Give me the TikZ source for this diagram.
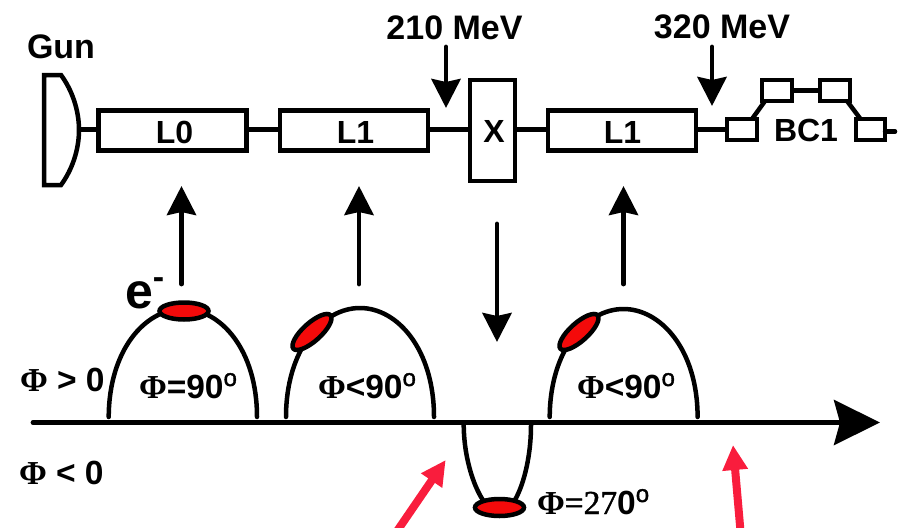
\documentclass[tikz,border=0pt]{standalone}
\usepackage{fontspec}
\setmainfont{Liberation Sans}
\newfontfamily\serifphi{Liberation Serif}
\newfontfamily\serifheavy[FakeBold=1.2]{Liberation Serif}
\newfontfamily\degfont[FakeBold=1.5]{Liberation Sans}
\usetikzlibrary{arrows.meta,shapes.geometric}
\definecolor{bunch}{HTML}{F40A0A}
\definecolor{pink}{HTML}{F91D3D}
\newcommand{\Ph}{{\serifphi\bfseries\symbol{"03A6}}}
\newcommand{\Deg}{\raisebox{12pt}{\fontsize{24}{24}\degfont\mdseries o}}
\tikzset{
  x=1pt,y=-1pt,
  line width=4.5pt,line join=round,
  box/.style={draw,rectangle,inner sep=0pt,outer sep=0pt,line width=4.5pt,font=\fontsize{32}{32}\selectfont\bfseries},
  lbl/.style={inner sep=0pt,outer sep=0pt,font=\fontsize{32}{32}\selectfont\bfseries},
  biglbl/.style={inner sep=0pt,outer sep=0pt,font=\fontsize{34}{34}\selectfont\bfseries},
  phaselbl/.style={inner sep=0pt,outer sep=0pt,anchor=base west,font=\fontsize{33.5}{34}\selectfont\bfseries},
  conn/.style={line width=4.5pt},
  blackarrow/.style={line width=4.8pt,line cap=round,-{Stealth[length=29pt,width=29pt,inset=3pt]}},
  axisarrow/.style={line width=4.8pt,line cap=round,-{Stealth[length=46pt,width=45pt,inset=6pt]}},
  pinkarrow/.style={pink,line width=8pt,-{Triangle[length=25pt,width=24pt]}},
  bunchnode/.style={draw,ellipse,fill=bunch,inner sep=0pt,outer sep=0pt,line width=4.5pt,minimum width=49pt,minimum height=17pt},
  wave/.style={line width=4.5pt,line cap=round}
}
\begin{document}
\begin{tikzpicture}
\clip (0,0) rectangle (904,527);
\useasboundingbox (0,0) rectangle (904,527);
% gun
\draw[line width=4.5pt] (44,75) -- (61,75) .. controls (72,90) and (79,110) .. (79,130) .. controls (79,150) and (72,170) .. (61,185) -- (44,185) -- cycle;
\coordinate (gunout) at (79,129.5);
\node[biglbl] (gun) at (61,47) {Gun};
% beamline
\node[box,minimum width=148pt,minimum height=40pt] (L0) at (172.3,130.5) {};
\node[box,minimum width=148pt,minimum height=40pt] (L1a) at (354,130.5) {};
\node[box,minimum width=45pt,minimum height=101pt] (X) at (492.5,130.5) {};
\node[box,minimum width=148pt,minimum height=40pt] (L1b) at (622,130.5) {};
\node[lbl] (L0t) at (174.5,132) {L0};
\node[lbl] (L1at) at (355.5,132) {L1};
\node[lbl] (Xt) at (494,131) {X};
\node[lbl] (L1bt) at (622.5,132) {L1};
\node[box,minimum width=30pt,minimum height=21pt] (d1) at (742,129.5) {};
\node[box,minimum width=30pt,minimum height=21pt] (d2) at (777,90.5) {};
\node[box,minimum width=30pt,minimum height=21pt] (d3) at (835,90.5) {};
\node[box,minimum width=29pt,minimum height=21pt] (d4) at (870.5,129.5) {};
\node[lbl] (bc) at (806,130) {BC1};
\coordinate (tail) at (895,131.5);
\draw[conn] (gunout) -- (gunout-|L0.west);
\draw[conn] ([yshift=1pt]L0.east) -- ([yshift=1pt]L1a.west);
\draw[conn] ([yshift=1pt]L1a.east) -- ([yshift=1pt]X.west);
\draw[conn] ([yshift=1pt]X.east) -- ([yshift=1pt]L1b.west);
\draw[conn] ([yshift=1pt]L1b.east) -- (d1.west);
\draw[conn] ([xshift=10pt]d1.north) -- ([xshift=-12pt]d2.south);
\draw[conn] (d2.east) -- (d3.west);
\draw[conn] ([xshift=12pt]d3.south) -- ([xshift=-10pt]d4.north);
\draw[conn,line cap=round] (d4.east|-tail) -- (tail);
% energies
\node[biglbl] (e210) at (454.5,28) {210 MeV};
\node[biglbl] (e320) at (722,27) {320 MeV};
\coordinate (a210s) at (446,47); \coordinate (a210e) at (446,108);
\coordinate (a320s) at (712,47); \coordinate (a320e) at (712,106);
\draw[blackarrow] (a210s) -- (a210e);
\draw[blackarrow] (a320s) -- (a320e);
% vertical arrows
\coordinate (u1s) at (181.5,284); \coordinate (u1e) at (181.5,186);
\coordinate (u2s) at (359,284); \coordinate (u2e) at (359,186);
\coordinate (u3s) at (623.5,284); \coordinate (u3e) at (623.5,186);
\coordinate (ds) at (497,224); \coordinate (de) at (497,342);
\draw[blackarrow] (u1s) -- (u1e);
\draw[blackarrow] (u2s) -- (u2e);
\draw[blackarrow] (u3s) -- (u3e);
\draw[blackarrow] (ds) -- (de);
% axis
\coordinate (axs) at (33,422.5); \coordinate (axe) at (880,422.5);
\draw[axisarrow] (axs) -- (axe);
% waves
\draw[wave] (108.7,417) .. controls (109,350) and (145,309) .. (183,309) .. controls (221,309) and (257,350) .. (257,417);
\draw[wave] (286,417) .. controls (286,350) and (322,308) .. (360,308) .. controls (398,308) and (434,350) .. (434,417);
\draw[wave] (549.7,417) .. controls (550,350) and (586,309) .. (623.5,309) .. controls (661,309) and (697.6,350) .. (697.6,417);
\draw[wave] (463.7,425) .. controls (464,460) and (475,490) .. (485,503);
\draw[wave] (531,425) .. controls (531,460) and (522,490) .. (513,503);
% bunches
\node[bunchnode] (b1) at (184,311) {};
\node[bunchnode,rotate=42,minimum height=18pt,minimum width=50pt] (b2) at (312,332) {};
\node[bunchnode,rotate=42,minimum height=18pt,minimum width=50pt] (b3) at (579,332) {};
\node[bunchnode] (b4) at (499.5,507.5) {};
\node[inner sep=0pt,outer sep=0pt,anchor=base west,font=\fontsize{50}{50}\selectfont\bfseries] (elec) at (125,308) {e\raisebox{20pt}{\fontsize{34}{34}\selectfont -}};
% phase labels
\node[phaselbl] (p1) at (20,391) {\Ph{} > 0};
\node[phaselbl] (p2) at (19,484) {\Ph{} < 0};
\node[phaselbl] (p3) at (139,398) {\Ph=90\Deg};
\node[phaselbl] (p4) at (318,398) {\Ph<90\Deg};
\node[phaselbl] (p5) at (577,398) {\Ph<90\Deg};
\node[phaselbl] (p6) at (537,514) {\Ph{\serifheavy\mdseries =27}0\Deg};
% red arrows
\coordinate (r1s) at (393,537); \coordinate (r1e) at (445.7,460);
\coordinate (r2s) at (741,537); \coordinate (r2e) at (733,445);
\draw[pinkarrow] (r1s) -- (r1e);
\draw[pinkarrow] (r2s) -- (r2e);
\end{tikzpicture}
\end{document}
